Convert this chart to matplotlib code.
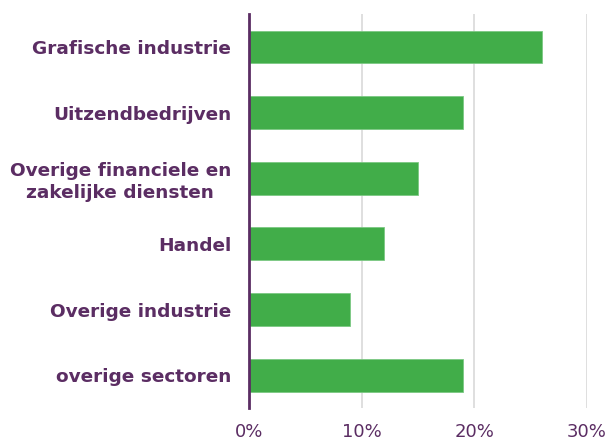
import matplotlib.pyplot as plt
from matplotlib.ticker import PercentFormatter

sectors = ['Grafische industrie', 'Uitzendbedrijven', 'Overige financiele en\nzakelijke diensten',
           'Handel', 'Overige industrie', 'overige sectoren']
shares = [0.26, 0.19, 0.15, 0.12, 0.09, 0.19]
xticks = [0, 0.1, 0.2, 0.3]

purple = '#5b2d63'
green = '#41ad49'

fig = plt.figure(figsize=(6.09, 4.43), dpi=100)
ax = fig.add_axes([0.409, 0.079, 0.555, 0.889])

ypos = list(range(len(sectors)))
ax.barh(ypos, shares, height=0.5, color=green, edgecolor='#7cc883', linewidth=0.6, zorder=3)
ax.set_ylim(len(sectors) - 0.5, -0.5)
ax.set_xlim(0, 0.3)
ax.set_xticks(xticks)
ax.xaxis.set_major_formatter(PercentFormatter(1.0, decimals=0))
ax.set_yticks(ypos)
ax.set_yticklabels(sectors, fontweight='bold', fontsize=13.3, color=purple,
                   linespacing=1.3, multialignment='center')
ax.tick_params(axis='y', length=0, pad=13)
ax.tick_params(axis='x', length=0, pad=11, labelsize=13, labelcolor=purple)

ax.grid(axis='x', color='#d9d9d9', linewidth=1.2, zorder=0)
for s in ['top', 'right', 'bottom']:
    ax.spines[s].set_visible(False)
ax.spines['left'].set_color(purple)
ax.spines['left'].set_linewidth(2)
ax.spines['left'].set_zorder(4)

fig.savefig('out.png', dpi=100)
